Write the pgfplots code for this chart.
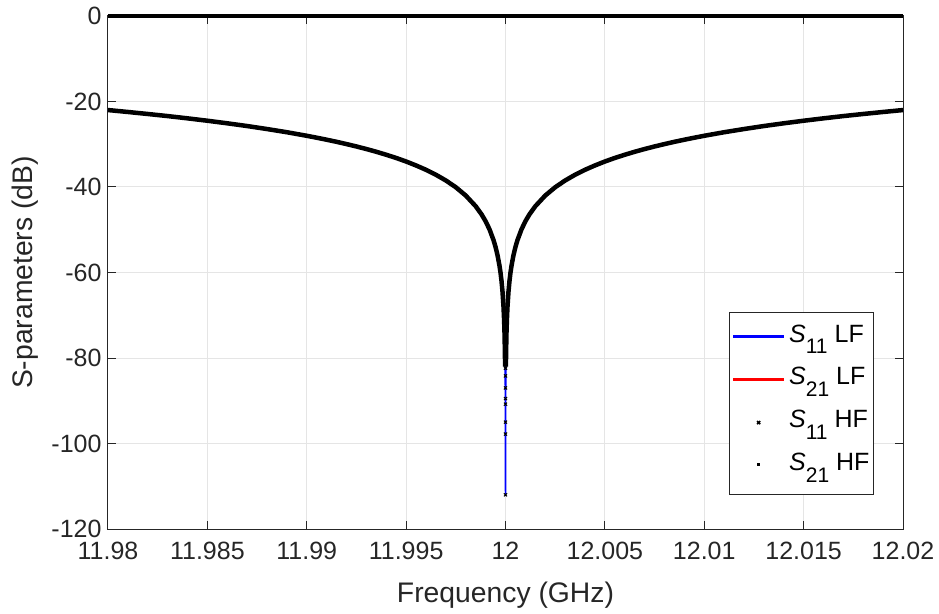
\documentclass[border=0pt]{standalone}
\usepackage{pgfplots}
\pgfplotsset{compat=1.18}
\usepackage{pgfplotstable}
\usepackage{fontspec}
\setmainfont{Liberation Sans}
\definecolor{lfblue}{RGB}{0,0,255}
\definecolor{lfred}{RGB}{255,0,0}

% x = frequency offset from 12 GHz in MHz (tick labels show GHz)
\pgfplotstableread{
x y
-20 -22.00
-19 -22.45
-18 -22.92
-17 -23.41
-16 -23.94
-15 -24.50
-14 -25.10
-13 -25.74
-12 -26.44
-11 -27.19
-10 -28.02
-9.5 -28.47
-9 -28.94
-8.5 -29.43
-8 -29.96
-7.5 -30.52
-7 -31.12
-6.5 -31.76
-6 -32.46
-5.5 -33.21
-5 -34.04
-4.5 -34.96
-4 -35.98
-3.5 -37.14
-3 -38.48
-2.5 -40.06
-2 -42.00
-1.5 -44.50
-1.2 -46.44
-1 -48.02
-0.8 -49.96
-0.6 -52.46
-0.5 -54.04
-0.4 -55.98
-0.3 -58.48
-0.25 -60.06
-0.2 -62.00
-0.15 -64.50
-0.1 -68.02
-0.07 -71.12
-0.05 -74.04
-0.03 -78.48
-0.02 -82.00
-0.01 -88.02
-0.005 -94.04
-0.002 -102.00
0 -112.00
0.002 -102.00
0.005 -94.04
0.01 -88.02
0.02 -82.00
0.03 -78.48
0.05 -74.04
0.07 -71.12
0.1 -68.02
0.15 -64.50
0.2 -62.00
0.25 -60.06
0.3 -58.48
0.4 -55.98
0.5 -54.04
0.6 -52.46
0.8 -49.96
1 -48.02
1.2 -46.44
1.5 -44.50
2 -42.00
2.5 -40.06
3 -38.48
3.5 -37.14
4 -35.98
4.5 -34.96
5 -34.04
5.5 -33.21
6 -32.46
6.5 -31.76
7 -31.12
7.5 -30.52
8 -29.96
8.5 -29.43
9 -28.94
9.5 -28.47
10 -28.02
11 -27.19
12 -26.44
13 -25.74
14 -25.10
15 -24.50
16 -23.94
17 -23.41
18 -22.92
19 -22.45
20 -22.00
}\SonefLF

\pgfplotstableread{
x y
0 -82.4
0 -84.2
0 -87.0
0 -89.5
0 -90.8
0 -95.0
0 -97.8
0 -112.0
}\SoneHFdip

\pgfplotstableread{
x y
-20 0
20 0
}\StwoData

\newcommand{\Sp}[1]{\textit{S}\raisebox{-11.7pt}{\fontsize{21}{21}\selectfont #1}}

\begin{document}
\begin{tikzpicture}
\path[use as bounding box] (-108pt,-84pt) rectangle (831pt,529pt);
\begin{axis}[
  at={(0pt,0pt)}, anchor=south west,
  width=795pt, height=513pt, scale only axis,
  xmin=-20, xmax=20, ymin=-120, ymax=0,
  xtick={-20,-15,-10,-5,0,5,10,15,20},
  xticklabels={11.98,11.985,11.99,11.995,12,12.005,12.01,12.015,12.02},
  ytick={-120,-100,-80,-60,-40,-20,0},
  yticklabels={-120,-100,-80,-60,-40,-20,0},
  grid=major,
  major grid style={black!10, line width=1pt},
  axis line style={black!85, line width=1pt},
  tick style={black!85, line width=1pt},
  major tick length=8pt,
  tick align=inside,
  ticklabel style={font=\fontsize{25}{30}\selectfont, text=black!85},
  xticklabel style={yshift=-9.4pt},
  yticklabel style={xshift=-3pt},
  xlabel={Frequency (GHz)},
  ylabel={S-parameters (dB)},
  xlabel style={at={(axis description cs:0.5,-0.14327)}, anchor=base, font=\fontsize{28.3}{34}\selectfont, text=black!85},
  ylabel style={at={(axis description cs:-0.09434,0.5)}, anchor=base, font=\fontsize{28.3}{34}\selectfont, text=black!85},
  clip=false,
  legend style={at={(axis description cs:0.96352,0.06628)}, anchor=south east,
    draw=black!85, line width=1pt, fill=white,
    inner xsep=4pt, inner ysep=12pt, row sep=12.8pt, column sep=5pt,
    font=\fontsize{25}{30}\selectfont,
    nodes={inner sep=0pt, text height=18pt, text depth=12pt},
    cells={anchor=west}},
]
\addplot[draw=lfblue, line width=1.5pt, line join=round, forget plot]
  table[x=x,y=y] {\SonefLF};
\addplot[draw=lfred, line width=1.5pt, forget plot]
  table[x=x,y=y] {\StwoData};
\addplot[black, line width=4.5pt, line join=round, line cap=butt, forget plot,
  restrict x to domain=-20:-0.015] table[x=x,y=y] {\SonefLF};
\addplot[black, line width=4.5pt, line join=round, line cap=butt, forget plot,
  restrict x to domain=0.015:20] table[x=x,y=y] {\SonefLF};
\addplot[black, only marks, mark=x, mark size=2.2pt, mark options={line width=1.1pt}, forget plot]
  table[x=x,y=y] {\SoneHFdip};
\addplot[black, line width=4pt, line cap=butt, forget plot]
  table[x=x,y=y] {\StwoData};
\addlegendimage{legend image code/.code={\fill[lfblue] (0pt,1.85pt) rectangle (50pt,3.35pt);}}
\addlegendentry{\Sp{11} LF}
\addlegendimage{legend image code/.code={\fill[lfred] (0pt,1.85pt) rectangle (50pt,3.35pt);}}
\addlegendentry{\Sp{21} LF}
\addlegendimage{legend image code/.code={\path (0pt,0pt) (50pt,0pt);
    \fill[black] (23.6pt,1.1pt) -- (24.0pt,0.7pt) -- (25pt,1.7pt) -- (26.0pt,0.7pt) -- (26.4pt,1.1pt) -- (25.4pt,2.1pt)
      -- (26.4pt,3.1pt) -- (26.0pt,3.5pt) -- (25pt,2.5pt) -- (24.0pt,3.5pt) -- (23.6pt,3.1pt) -- (24.6pt,2.1pt) -- cycle;}}
\addlegendentry{\Sp{11} HF}
\addlegendimage{legend image code/.code={\path (0pt,0pt) (50pt,0pt);
    \fill[black] (24.1pt,1.7pt) rectangle (25.9pt,3.5pt);}}
\addlegendentry{\Sp{21} HF}
\end{axis}
\end{tikzpicture}
\end{document}
